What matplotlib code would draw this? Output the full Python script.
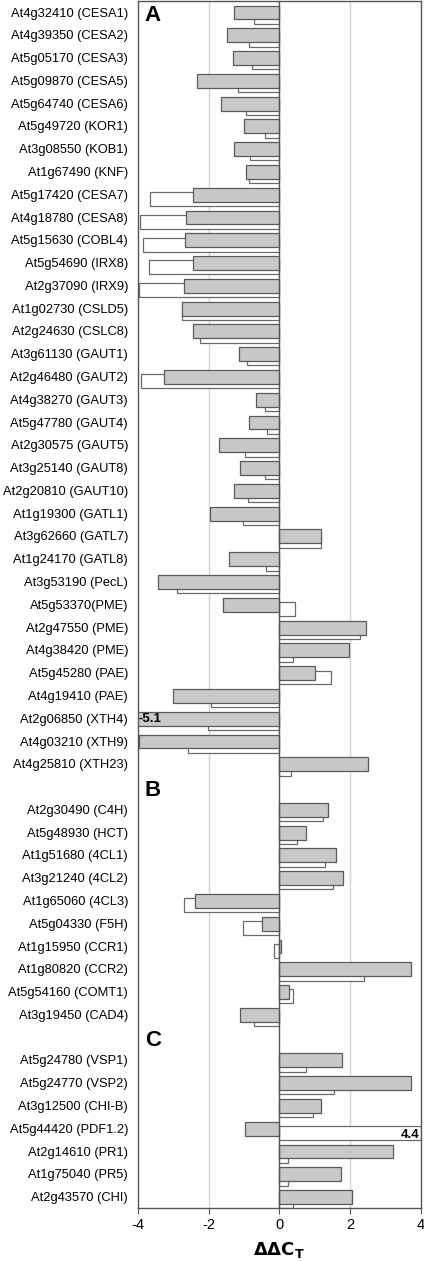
import matplotlib
matplotlib.use("Agg")
import matplotlib.pyplot as plt
import numpy as np

plt.rcParams['font.family'] = ['Liberation Sans', 'DejaVu Sans']

genes_A = ["At4g32410 (CESA1)", "At4g39350 (CESA2)", "At5g05170 (CESA3)", "At5g09870 (CESA5)",
           "At5g64740 (CESA6)", "At5g49720 (KOR1)", "At3g08550 (KOB1)", "At1g67490 (KNF)",
           "At5g17420 (CESA7)", "At4g18780 (CESA8)", "At5g15630 (COBL4)", "At5g54690 (IRX8)",
           "At2g37090 (IRX9)", "At1g02730 (CSLD5)", "At2g24630 (CSLC8)", "At3g61130 (GAUT1)",
           "At2g46480 (GAUT2)", "At4g38270 (GAUT3)", "At5g47780 (GAUT4)", "At2g30575 (GAUT5)",
           "At3g25140 (GAUT8)", "At2g20810 (GAUT10)", "At1g19300 (GATL1)", "At3g62660 (GATL7)",
           "At1g24170 (GATL8)", "At3g53190 (PecL)", "At5g53370(PME)", "At2g47550 (PME)",
           "At4g38420 (PME)", "At5g45280 (PAE)", "At4g19410 (PAE)", "At2g06850 (XTH4)",
           "At4g03210 (XTH9)", "At4g25810 (XTH23)"]
grey_A = [-1.27, -1.49, -1.32, -2.33, -1.64, -1.00, -1.27, -0.93, -2.43, -2.63, -2.68, -2.45,
          -2.70, -2.75, -2.45, -1.13, -3.25, -0.67, -0.87, -1.70, -1.11, -1.27, -1.97, 1.18,
          -1.41, -3.42, -1.58, 2.45, 1.97, 1.01, -3.00, -5.1, -3.97, 2.50]
white_A = [-0.73, -0.85, -0.78, -1.18, -0.93, -0.40, -0.82, -0.87, -3.66, -3.94, -3.86, -3.68,
           -3.97, -2.76, -2.23, -0.92, -3.92, -0.42, -0.34, -0.98, -0.42, -0.90, -1.04, 1.18,
           -0.38, -2.90, 0.43, 2.29, 0.39, 1.46, -1.92, -2.03, -2.59, 0.32]

genes_B = ["At2g30490 (C4H)", "At5g48930 (HCT)", "At1g51680 (4CL1)", "At3g21240 (4CL2)",
           "At1g65060 (4CL3)", "At5g04330 (F5H)", "At1g15950 (CCR1)", "At1g80820 (CCR2)",
           "At5g54160 (COMT1)", "At3g19450 (CAD4)"]
grey_B = [1.38, 0.74, 1.61, 1.81, -2.39, -0.49, 0.04, 3.71, 0.28, -1.10]
white_B = [1.23, 0.51, 1.28, 1.52, -2.70, -1.03, -0.16, 2.39, 0.39, -0.73]

genes_C = ["At5g24780 (VSP1)", "At5g24770 (VSP2)", "At3g12500 (CHI-B)", "At5g44420 (PDF1.2)",
           "At2g14610 (PR1)", "At1g75040 (PR5)", "At2g43570 (CHI)"]
grey_C = [1.77, 3.71, 1.18, -0.98, 3.22, 1.75, 2.06]
white_C = [0.76, 1.55, 0.94, 4.4, 0.23, 0.25, 0.38]

section_labels = ["A", "B", "C"]
xticks = [-4, -2, 0, 2, 4]

# assemble rows with one blank slot between sections
labels, grey, white, ypos, section_y = [], [], [], [], []
slot = 0
for sec, (g, gv, wv) in enumerate([(genes_A, grey_A, white_A), (genes_B, grey_B, white_B),
                                   (genes_C, grey_C, white_C)]):
    if sec > 0:
        section_y.append(slot)
        slot += 1
    else:
        section_y.append(None)
    for name, a, b in zip(g, gv, wv):
        labels.append(name)
        grey.append(a)
        white.append(b)
        ypos.append(slot)
        slot += 1
nslots = slot
ypos = np.array(ypos, dtype=float)

fig = plt.figure(figsize=(4.24, 12.61), dpi=100)
ax = fig.add_axes([0.325, 0.042, 0.668, 0.9575])

xmin, xmax = -4, 4
grey_c = np.clip(grey, xmin, xmax)
white_c = np.clip(white, xmin, xmax)

h = 0.61
ax.barh(ypos + 0.21, white_c, height=h, color="white", edgecolor="#6a6a6a", linewidth=0.9, zorder=2)
ax.barh(ypos + 0.02, grey_c, height=h, color="#c8c8c8", edgecolor="#5a5a5a", linewidth=0.9, zorder=3)

for xv in (-2, 2):
    ax.axvline(xv, color="#d4d4d4", linewidth=1.0, zorder=1)
ax.axvline(0, color="#555555", linewidth=1.0, zorder=4)

# annotate clipped values
for y, g, w in zip(ypos, grey, white):
    if g < xmin:
        ax.text(xmin + 0.03, y + 0.02, f"{g:.1f}", ha="left", va="center", fontsize=9.5,
                fontweight="bold", zorder=5)
    if w > xmax:
        ax.text(xmax - 0.05, y + 0.3, f"{w:.1f}", ha="right", va="center", fontsize=9.5,
                fontweight="bold", zorder=5)

# section labels
ax.text(-3.8, 0.15, section_labels[0], ha="left", va="center", fontsize=16, fontweight="bold")
for lab, sy in zip(section_labels[1:], section_y[1:]):
    ax.text(-3.8, sy + 0.15, lab, ha="left", va="center", fontsize=16, fontweight="bold")

ax.set_xlim(xmin, xmax)
ax.set_ylim(nslots - 0.5, -0.5)
ax.set_yticks(ypos)
ax.set_yticklabels(labels, fontsize=9.3)
ax.tick_params(axis="y", length=0, pad=7)
ax.set_xticks(xticks)
ax.set_xticklabels([str(t) for t in xticks], fontsize=10.5)
ax.tick_params(axis="x", length=4, color="#555555", direction="out", pad=3)
ax.set_xlabel(r"$\mathbf{\Delta\Delta C_T}$", fontsize=13, labelpad=6)
for s in ax.spines.values():
    s.set_color("#555555")
    s.set_linewidth(1.0)

fig.savefig("out.png", dpi=100)
